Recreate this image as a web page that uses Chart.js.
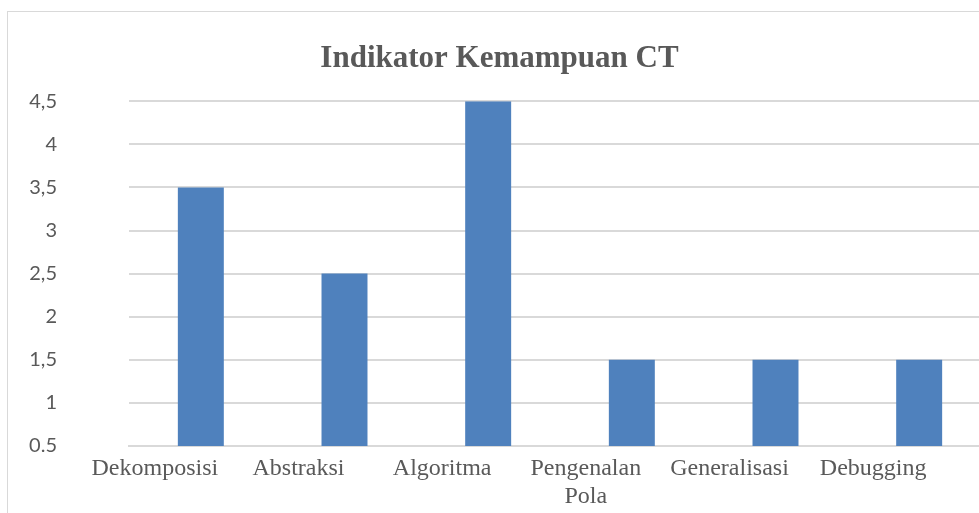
<!DOCTYPE html>
<html>
<head>
<meta charset="utf-8">
<script src="https://cdn.jsdelivr.net/npm/chart.js@4.4.0/dist/chart.umd.min.js"></script>
<style>
  html, body { margin:0; padding:0; background:#fff; overflow:hidden; }
  #wrap { position:absolute; left:7px; top:11px; width:995px; height:518px; border-left:1.5px solid #d9d9d9; border-top:1.5px solid #d9d9d9; }
</style>
</head>
<body>
<div id="wrap"><canvas id="ctChart"></canvas></div>
<script>
  const kategori = ["Dekomposisi", "Abstraksi", "Algoritma", ["Pengenalan", "Pola"], "Generalisasi", "Debugging"];
  const nilai = [3.5, 2.5, 4.5, 1.5, 1.5, 1.5];
  const labelSumbuY = { 0.5:"0.5", 1:"1", 1.5:"1,5", 2:"2", 2.5:"2,5", 3:"3", 3.5:"3,5", 4:"4", 4.5:"4,5" };

  const canvas = document.getElementById("ctChart");
  canvas.width = 995; canvas.height = 518;
  const ctx = canvas.getContext("2d");

  new Chart(ctx, {
    type: "bar",
    data: {
      labels: kategori,
      datasets: [{ data: nilai, backgroundColor: "#4f81bd", categoryPercentage: 1, barPercentage: 0.32 }]
    },
    options: {
      responsive: false,
      animation: false,
      layout: { padding: { right: 12, bottom: 4 } },
      plugins: {
        legend: { display: false },
        tooltip: { enabled: false },
        title: {
          display: true,
          text: "Indikator Kemampuan CT",
          color: "#595959",
          font: { family: "'Liberation Serif', 'Times New Roman', serif", size: 31, weight: "bold" },
          padding: { top: 28, bottom: 24 }
        }
      },
      scales: {
        x: {
          grid: { display: false },
          border: { color: "#d9d9d9", width: 2 },
          ticks: {
            color: "#595959",
            padding: 1,
            labelOffset: -46,
            maxRotation: 0,
            autoSkip: false,
            font: { family: "'Liberation Serif', 'Times New Roman', serif", size: 24, lineHeight: 1.15 }
          }
        },
        y: {
          min: 0.5,
          max: 4.5,
          afterFit: s => { s.width = 121; },
          border: { display: false },
          grid: { color: "#d9d9d9", lineWidth: 2, drawTicks: false },
          ticks: {
            stepSize: 0.5,
            padding: 72,
            color: "#595959",
            font: { family: "Lato, 'Open Sans', sans-serif", size: 20 },
            callback: v => labelSumbuY[v] ?? String(v)
          }
        }
      }
    }
  });
</script>
</body>
</html>
